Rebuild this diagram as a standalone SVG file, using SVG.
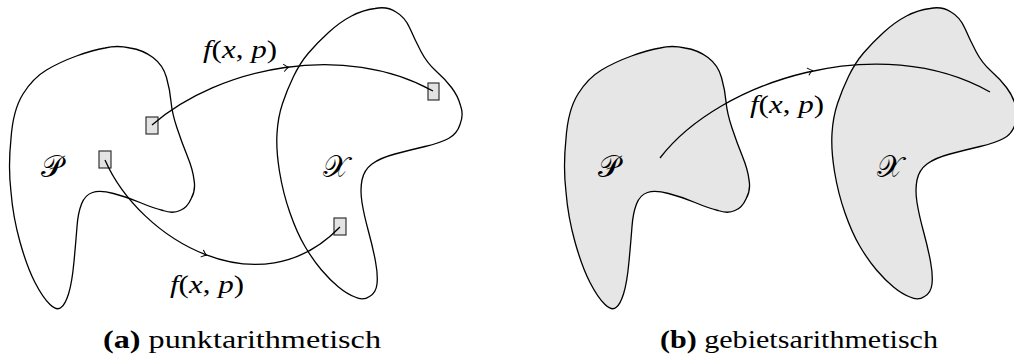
<svg xmlns="http://www.w3.org/2000/svg" xmlns:xlink="http://www.w3.org/1999/xlink" width="1014" height="358" viewBox="0 0 1014 358">
<style>
.blob{stroke:#000;stroke-width:1.3;stroke-linejoin:round}
.wa{fill:#fff}
.gb{fill:#e6e6e6}
.conn{fill:none;stroke:#000;stroke-width:1.3}
.arr{fill:none;stroke:#000;stroke-width:1;stroke-linecap:round}
.pt{fill:#e3e3e3;stroke:#333;stroke-width:1.2}
</style>
<defs>
<path id="shapeP" d="M 11,192 Q 8,167 11,138.5 Q 13,110 23,94 Q 33,78 46.5,70 Q 60,62 76.5,56 Q 93,50 105,48 Q 117,45 130,48 Q 143,50 153,57.5 Q 163,65 166.5,77.5 Q 170,90 171,101.5 Q 172,113 177,128 Q 182,143 187.5,156.5 Q 193,170 194,180 Q 196,190 191,199 Q 187,208 180,210.5 Q 173,214 163,210.5 Q 153,208 140,202.5 Q 127,197 113.5,193.5 Q 100,190 92.5,192.5 Q 85,195 81.5,204 Q 78,213 77,226.5 Q 76,240 74,261.5 Q 72,283 68.5,294 Q 65,305 61,307.5 Q 57,311 50,304.5 Q 43,298 35,282.5 Q 27,267 20,242 Q 13,217 11,192 Z"/>
<path id="shapeX" d="M 375,8.5 Q 387,6 396,12 Q 405,17 410,28.5 Q 415,40 421,51.5 Q 427,63 436,71 Q 445,79 451.5,87.5 Q 458,96 460.5,105.5 Q 464,115 460,124.5 Q 457,134 448.5,138.5 Q 440,143 425,146.5 Q 410,150 395,154 Q 380,158 372,164 Q 364,170 362,180 Q 360,190 362,202.5 Q 364,215 368.5,231.5 Q 373,248 375.5,261.5 Q 378,275 377,284 Q 376,293 369.5,296.5 Q 363,301 355,297 Q 347,294 338.5,287 Q 330,280 321.5,270 Q 313,260 305,246.5 Q 297,233 290,213 Q 283,193 279.5,171.5 Q 276,150 277,133.5 Q 278,117 282.5,103.5 Q 287,90 293.5,76.5 Q 300,63 308.5,53 Q 317,43 328.5,32.5 Q 340,22 351.5,16 Q 363,10 375,8.5 Z"/>
<path id="head" d="M -4,-3.5 Q -1.5,-1 0.5,0 Q -1.5,1 -4,3.5"/>
</defs>

<g id="panel-a">
<g id="node-P-a"><use xlink:href="#shapeP" href="#shapeP" class="blob wa"/>
<text font-family="DejaVu Serif, Liberation Serif, serif" font-size="30" x="41" y="177">𝒫</text></g>
<g id="node-X-a"><use xlink:href="#shapeX" href="#shapeX" class="blob" fill="none"/>
<text font-family="DejaVu Serif, Liberation Serif, serif" font-size="30" x="323" y="177">𝒳</text></g>
<g id="node-p1"><rect class="pt" x="146" y="117" width="12" height="17"/></g>
<g id="node-p2"><rect class="pt" x="99" y="151" width="12" height="17"/></g>
<g id="node-x1"><rect class="pt" x="428" y="83" width="11" height="17"/></g>
<g id="node-x2"><rect class="pt" x="334" y="218" width="12" height="17"/></g>
<g id="connectors-a">
<path class="conn" d="M 152,125 C 220,66 345,42 433,91"/>
<path class="conn" d="M 105,160 C 140,240 260,310 340,227"/>
<use xlink:href="#head" href="#head" class="arr" transform="translate(288,67.3) rotate(-8)"/>
<use xlink:href="#head" href="#head" class="arr" transform="translate(206,255) rotate(21)"/>
</g>
<text font-family="Liberation Serif, serif" font-size="26" x="203" y="58" textLength="74" lengthAdjust="spacingAndGlyphs"><tspan font-style="italic">f</tspan>(<tspan font-style="italic">x</tspan>, <tspan font-style="italic">p</tspan>)</text>
<text font-family="Liberation Serif, serif" font-size="26" x="170" y="293" textLength="74" lengthAdjust="spacingAndGlyphs"><tspan font-style="italic">f</tspan>(<tspan font-style="italic">x</tspan>, <tspan font-style="italic">p</tspan>)</text>
<text font-family="Liberation Serif, serif" font-size="25" x="103" y="348" textLength="278" lengthAdjust="spacingAndGlyphs"><tspan font-weight="bold">(a)</tspan> punktarithmetisch</text>
</g>

<g id="panel-b">
<g id="node-P-b"><use xlink:href="#shapeP" href="#shapeP" class="blob gb" transform="translate(555,0)"/>
<text font-family="DejaVu Serif, Liberation Serif, serif" font-size="30" x="598" y="177">𝒫</text></g>
<g id="node-X-b"><use xlink:href="#shapeX" href="#shapeX" class="blob gb" transform="translate(555,0)"/>
<text font-family="DejaVu Serif, Liberation Serif, serif" font-size="30" x="877" y="177">𝒳</text></g>
<g id="connectors-b">
<path class="conn" d="M 660,158 C 720,80 880,30 990,92"/>
<use xlink:href="#head" href="#head" class="arr" transform="translate(812,70.5) rotate(-15)"/>
</g>
<text font-family="Liberation Serif, serif" font-size="26" x="750" y="113" textLength="74" lengthAdjust="spacingAndGlyphs"><tspan font-style="italic">f</tspan>(<tspan font-style="italic">x</tspan>, <tspan font-style="italic">p</tspan>)</text>
<text font-family="Liberation Serif, serif" font-size="25" x="660" y="348" textLength="278" lengthAdjust="spacingAndGlyphs"><tspan font-weight="bold">(b)</tspan> gebietsarithmetisch</text>
</g>
</svg>
